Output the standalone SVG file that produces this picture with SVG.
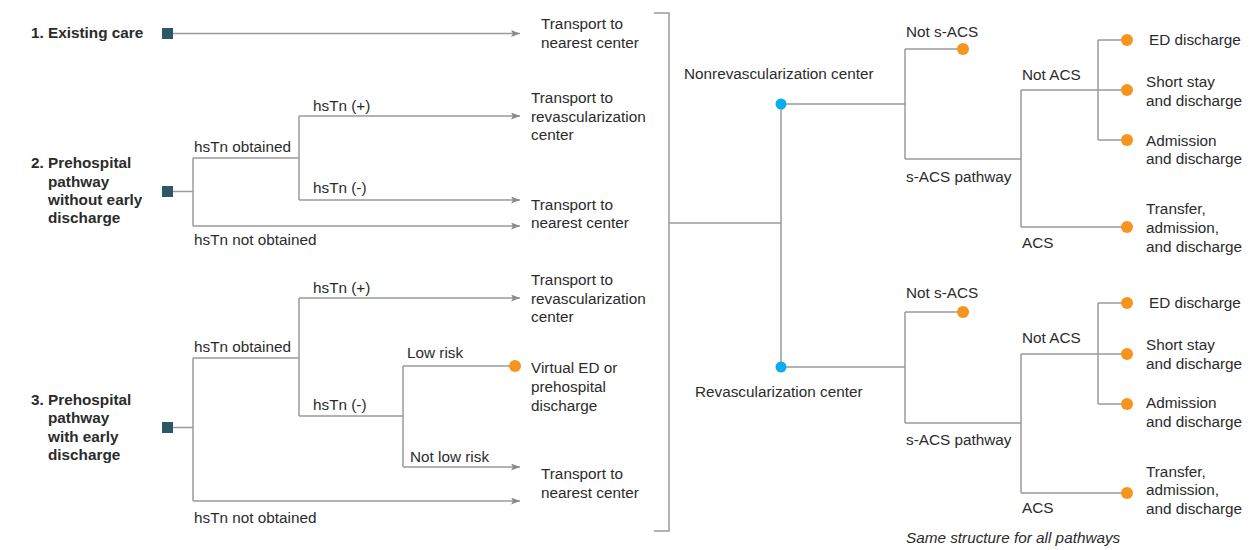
<svg xmlns="http://www.w3.org/2000/svg" width="1249" height="550" viewBox="0 0 1249 550">
<style>
text{font-family:"Liberation Sans",Arial,sans-serif;font-size:15.3px;fill:#2b2b2b}
.b{font-weight:bold}
.i{font-style:italic}
.ln{fill:none;stroke:#9a9a9a;stroke-width:1.5}
.arr{marker-end:url(#ah)}
.sq{fill:#2d5766}
.bl{fill:#0aaeea}
.or{fill:#f7941d}
</style>
<defs>
<marker id="ah" viewBox="0 0 9 7" refX="9" refY="3.5" markerWidth="9" markerHeight="7" markerUnits="userSpaceOnUse" orient="auto">
<path d="M0,0 L9,3.5 L0,7 L2,3.5 z" fill="#8a8a8a"/>
</marker>
</defs>
<rect width="1249" height="550" fill="#fff"/>
<g id="connectors">
<path class="ln arr" d="M173,33.5 H520"/>
<path class="ln" d="M173,191.5 H193 M193,158 V226 M193,158 H299 M299,116 V200"/>
<path class="ln arr" d="M299,116 H520"/>
<path class="ln arr" d="M299,200 H520"/>
<path class="ln arr" d="M193,226 H520"/>
<path class="ln" d="M173,427.5 H193 M193,358 V501 M193,358 H299 M299,298 V416 M299,416 H403 M403,366 V467 M403,366 H515"/>
<path class="ln arr" d="M299,298 H520"/>
<path class="ln arr" d="M403,467 H520"/>
<path class="ln arr" d="M193,501 H520"/>
<path class="ln" d="M654,13 H669 V531 H654 M669,223 H781 M781,104 V367"/>
<path class="ln" d="M781,104 H905 M905,49 V159 M905,49 H963 M905,159 H1021 M1021,90 V227 M1021,90 H1127 M1098,40 V140 M1098,40 H1127 M1098,140 H1127 M1021,227 H1127"/>
<path class="ln" d="M781,367 H905 M905,312 V423 M905,312 H963 M905,423 H1021 M1021,354 V493 M1021,354 H1127 M1098,303 V404 M1098,303 H1127 M1098,404 H1127 M1021,493 H1127"/>
</g>
<g id="p1">
<text class="b" x="31" y="38">1. Existing care</text>
<rect class="sq" x="162" y="28" width="11" height="11"/>
</g>
<g id="p2">
<text class="b" x="31" y="168">2. Prehospital</text>
<text class="b" x="48" y="187">pathway</text>
<text class="b" x="48" y="205">without early</text>
<text class="b" x="48" y="223">discharge</text>
<rect class="sq" x="162" y="186" width="11" height="11"/>
</g>
<g id="p3">
<text class="b" x="31" y="405">3. Prehospital</text>
<text class="b" x="48" y="423">pathway</text>
<text class="b" x="48" y="442">with early</text>
<text class="b" x="48" y="460">discharge</text>
<rect class="sq" x="162" y="422" width="11" height="11"/>
</g>
<g id="labels-left">
<text x="194" y="152">hsTn obtained</text>
<text x="313" y="111">hsTn (+)</text>
<text x="313" y="193">hsTn (-)</text>
<text x="194" y="245">hsTn not obtained</text>
<text x="194" y="352">hsTn obtained</text>
<text x="313" y="293">hsTn (+)</text>
<text x="313" y="410">hsTn (-)</text>
<text x="407" y="358">Low risk</text>
<text x="410" y="462">Not low risk</text>
<text x="194" y="523">hsTn not obtained</text>
</g>
<g id="t1"><text x="541" y="29">Transport to</text><text x="541" y="48">nearest center</text></g>
<g id="t2"><text x="531" y="103">Transport to</text><text x="531" y="122">revascularization</text><text x="531" y="140">center</text></g>
<g id="t3"><text x="531" y="210">Transport to</text><text x="531" y="228">nearest center</text></g>
<g id="t4"><text x="531" y="285">Transport to</text><text x="531" y="304">revascularization</text><text x="531" y="322">center</text></g>
<g id="t5"><circle class="or" cx="515" cy="366" r="6"/><text x="531" y="373">Virtual ED or</text><text x="531" y="392">prehospital</text><text x="531" y="411">discharge</text></g>
<g id="t6"><text x="541" y="479">Transport to</text><text x="541" y="498">nearest center</text></g>
<g id="nonrev">
<circle class="bl" cx="781" cy="104" r="5.5"/>
<text x="684" y="79">Nonrevascularization center</text>
<text x="906" y="37">Not s-ACS</text>
<circle class="or" cx="963" cy="49" r="6"/>
<text x="906" y="182">s-ACS pathway</text>
<text x="1022" y="80">Not ACS</text>
<text x="1022" y="248">ACS</text>
<circle class="or" cx="1127" cy="40" r="6"/>
<circle class="or" cx="1127" cy="90" r="6"/>
<circle class="or" cx="1127" cy="140" r="6"/>
<circle class="or" cx="1127" cy="227" r="6"/>
<text x="1149" y="45">ED discharge</text>
<text x="1146" y="87">Short stay</text><text x="1146" y="106">and discharge</text>
<text x="1146" y="146">Admission</text><text x="1146" y="164">and discharge</text>
<text x="1146" y="214">Transfer,</text><text x="1146" y="233">admission,</text><text x="1146" y="252">and discharge</text>
</g>
<g id="rev">
<circle class="bl" cx="781" cy="367" r="5.5"/>
<text x="695" y="397">Revascularization center</text>
<text x="906" y="298">Not s-ACS</text>
<circle class="or" cx="963" cy="312" r="6"/>
<text x="906" y="445">s-ACS pathway</text>
<text x="1022" y="343">Not ACS</text>
<text x="1022" y="513">ACS</text>
<circle class="or" cx="1127" cy="303" r="6"/>
<circle class="or" cx="1127" cy="354" r="6"/>
<circle class="or" cx="1127" cy="404" r="6"/>
<circle class="or" cx="1127" cy="493" r="6"/>
<text x="1149" y="308">ED discharge</text>
<text x="1146" y="350">Short stay</text><text x="1146" y="369">and discharge</text>
<text x="1146" y="408">Admission</text><text x="1146" y="427">and discharge</text>
<text x="1146" y="477">Transfer,</text><text x="1146" y="495">admission,</text><text x="1146" y="514">and discharge</text>
</g>
<text class="i" x="906" y="543">Same structure for all pathways</text>
</svg>
